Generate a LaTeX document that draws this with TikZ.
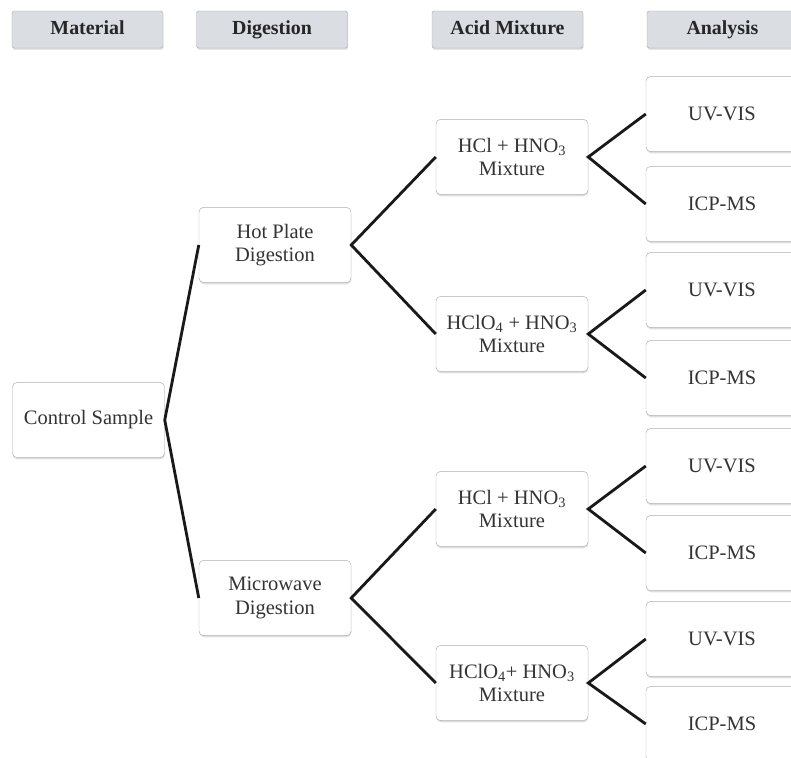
\documentclass[tikz,border=0pt]{standalone}
\usepackage{fontspec}
\setmainfont{Liberation Serif}
\usepackage{tikz}
\usetikzlibrary{shadows}
\definecolor{hdrfill}{RGB}{218,221,225}
\definecolor{boxline}{RGB}{175,175,175}
\tikzset{
    header/.style={draw=boxline, fill=hdrfill, rounded corners=2pt,
        minimum width=4.53cm, minimum height=1.11cm, text=black!85,
        text height=1.95ex, text depth=0pt,
        font=\bfseries\fontsize{17}{20}\selectfont,
        drop shadow={shadow xshift=0.4pt, shadow yshift=-1.4pt, opacity=0.3}},
    stage/.style={draw=boxline, fill=white, rounded corners=4pt,
        minimum width=4.56cm, minimum height=2.26cm, align=center, text=black!80,
        font=\fontsize{17.5}{20}\selectfont,
        drop shadow={shadow xshift=0.4pt, shadow yshift=-1.4pt, opacity=0.25}},
    branch/.style={draw=black!90, line width=2.4pt}
}
\begin{document}
\begin{tikzpicture}[x=0.03cm, y=-0.03cm]
\useasboundingbox (0,0) rectangle (791,757);
\node[style={header}] (hmat) at (87.5, 29.5) {Material};
\node[style={header}] (hdig) at (272, 29.5) {Digestion};
\node[style={header}] (hacid) at (507.5, 29.5) {Acid Mixture};
\node[style={header}] (hana) at (722.5, 29.5) {Analysis};

\node[style={stage}] (ctrl) at (88.5, 420) {Control Sample};
\node[style={stage}] (hot) at (275, 245) {Hot Plate\\Digestion};
\node[style={stage}] (micro) at (275, 598) {Microwave\\Digestion};

\node[style={stage}] (acidA) at (512, 157) {HCl + HNO\textsubscript{3}\\Mixture};
\node[style={stage}] (acidB) at (512, 334) {HClO\textsubscript{4} + HNO\textsubscript{3}\\Mixture};
\node[style={stage}] (acidC) at (512, 509) {HCl + HNO\textsubscript{3}\\Mixture};
\node[style={stage}] (acidD) at (512, 683) {HClO\textsubscript{4}+ HNO\textsubscript{3}\\Mixture};

\foreach \n/\yu/\yi in {A/114/204, B/290/378, C/466/553, D/639/724}{
  \node[style={stage}] (uv\n) at (722, \yu) {UV-VIS};
  \node[style={stage}] (icp\n) at (722, \yi) {ICP-MS};
  \draw[style={branch}] (uv\n.west) -- (acid\n.east) -- (icp\n.west);
}

\draw[style={branch}] (hot.west) -- (ctrl.east) -- (micro.west);
\draw[style={branch}] (acidA.west) -- (hot.east) -- (acidB.west);
\draw[style={branch}] (acidC.west) -- (micro.east) -- (acidD.west);
\end{tikzpicture}
\end{document}
